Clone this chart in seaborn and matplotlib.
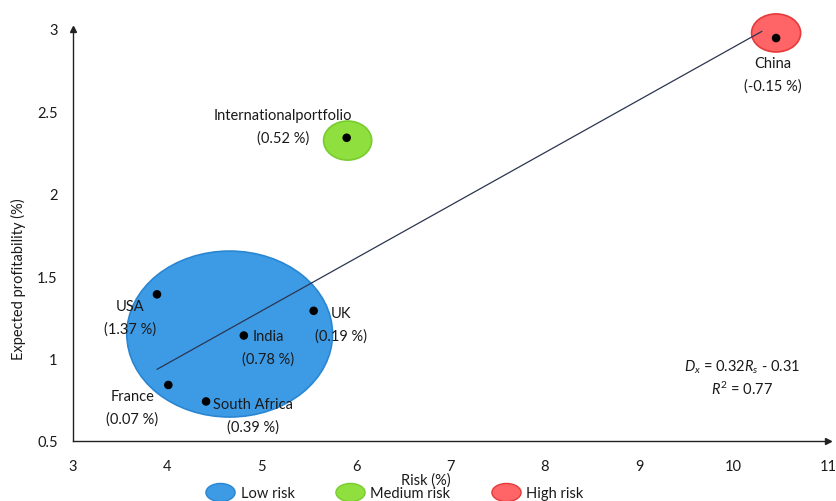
import numpy as np
import pandas as pd
import seaborn as sns
import matplotlib
matplotlib.use("Agg")
import matplotlib.pyplot as plt
from matplotlib.patches import Ellipse
from matplotlib.path import Path
from matplotlib.transforms import Affine2D
from matplotlib.lines import Line2D

# --- data ---------------------------------------------------------------
markets = ["USA", "UK", "India", "France", "South Africa",
           "International portfolio", "China"]
risk = [3.89, 5.55, 4.81, 4.01, 4.41, 5.90, 10.45]          # Risk (%)
profit = [1.39, 1.29, 1.14, 0.84, 0.74, 2.34, 2.945]        # Expected profitability (%)
shares = ["1.37", "0.19", "0.78", "0.07", "0.39", "0.52", "-0.15"]

# regression line D_x = slope * R_s + intercept
slope, intercept = 0.32, -0.31
r_squared = 0.77
line_x = [3.89, 10.30]

# risk groups: centre (risk, profit), width, height
groups = ["Low risk", "Medium risk", "High risk"]
group_centre = [(4.66, 1.149), (5.91, 2.323), (10.45, 2.976)]
group_size = [(2.18, 1.007), (0.51, 0.237), (0.52, 0.231)]
group_fill = ["#3d9be6", "#8fe03e", "#ff6466"]
group_edge = ["#2a86d2", "#78cc2e", "#e53a3a"]

x_ticks = [3, 4, 5, 6, 7, 8, 9, 10, 11]
y_ticks = [0.5, 1, 1.5, 2, 2.5, 3]

# label anchor (centre of the two-line block) for each market
label_pos = [(3.604, 1.249), (5.840, 1.210), (5.071, 1.070), (3.630, 0.706),
             (4.902, 0.655), (5.225, 2.411), (10.417, 2.724)]

# --- style --------------------------------------------------------------
sns.set_theme(style="white")
plt.rcParams["font.family"] = ["Lato", "DejaVu Sans"]
plt.rcParams["mathtext.fontset"] = "custom"
plt.rcParams["mathtext.rm"] = "Lato"
plt.rcParams["mathtext.it"] = "Lato:italic"
text_col = "#1a1a1a"
fs = 10.5

fig = plt.figure(figsize=(8.37, 5.02), dpi=100)
ax = fig.add_axes([73 / 837, 1 - 442 / 502, 755 / 837, 412 / 502])

# risk-group ellipses
for c, (w, h), fc, ec in zip(group_centre, group_size, group_fill, group_edge):
    ax.add_patch(Ellipse(c, w, h, facecolor=fc, edgecolor=ec, lw=1.2,
                         zorder=1, clip_on=False))

# regression line
lx = np.array(line_x)
df_line = pd.DataFrame({"x": lx, "y": slope * lx + intercept})
sns.lineplot(data=df_line, x="x", y="y", ax=ax, color="#2c3550", lw=0.9,
             zorder=2, legend=False)

# market points
df = pd.DataFrame({"risk": risk, "profit": profit, "market": markets})
sns.scatterplot(data=df, x="risk", y="profit", ax=ax, color="black", s=38,
                edgecolor="none", zorder=3, legend=False)

for name, sh, (tx, ty) in zip(markets, shares, label_pos):
    shown = "Internationalportfolio" if name == "International portfolio" else name
    ax.text(tx, ty, f"{shown}\n({sh} %)", ha="center", va="center",
            fontsize=fs, color=text_col, linespacing=1.75, zorder=4)

ax.text(10.089, 0.955, rf"$D_x$ = {slope:.2f}$R_s$ - {abs(intercept):.2f}",
        ha="center", va="center", fontsize=fs, color=text_col)
ax.text(10.089, 0.822, rf"$R^2$ = {r_squared:.2f}", ha="center", va="center",
        fontsize=fs, color=text_col)

# axes
ax.set_xlim(3, 11)
ax.set_ylim(0.5, 3)
ax.set_xticks(x_ticks)
ax.set_yticks(y_ticks)
ax.set_xticklabels([str(t) for t in x_ticks])
ax.set_yticklabels([f"{t:g}" for t in y_ticks])
ax.tick_params(axis="both", length=0, labelsize=fs, colors=text_col)
ax.tick_params(axis="x", pad=13)
ax.tick_params(axis="y", pad=11)
for side in ["top", "right"]:
    ax.spines[side].set_visible(False)
for side in ["left", "bottom"]:
    ax.spines[side].set_color("#222222")
    ax.spines[side].set_linewidth(1.0)
ax.plot(1, 0, ">", color="#222222", ms=5, transform=ax.transAxes, clip_on=False)
ax.plot(0, 1, "^", color="#222222", ms=5, transform=ax.transAxes, clip_on=False)

ax.set_xlabel("Risk (%)", fontsize=fs, color=text_col)
ax.xaxis.set_label_coords(0.4675, -0.077)
ax.set_ylabel("Expected profitability (%)", fontsize=fs, color=text_col)
ax.yaxis.label.set(va="center", ha="center")
ax.yaxis.set_label_coords(-55 / 755, (442 - 279) / 412)

# legend with ellipse symbols
ell = Path(Affine2D().scale(1.0, 0.62).transform(Path.unit_circle().vertices),
           Path.unit_circle().codes)
handles = [Line2D([], [], ls="none", marker=ell, ms=21, markerfacecolor=fc,
                  markeredgecolor=ec, markeredgewidth=1.0)
           for fc, ec in zip(group_fill, group_edge)]
fig.legend(handles, groups, loc="center", bbox_to_anchor=(396 / 837, 1 - 494 / 502),
           ncol=3, frameon=False, fontsize=fs, handletextpad=0.6,
           columnspacing=3.0, handlelength=1.6, labelcolor=text_col)

fig.savefig("out.png", dpi=100, facecolor="white")
